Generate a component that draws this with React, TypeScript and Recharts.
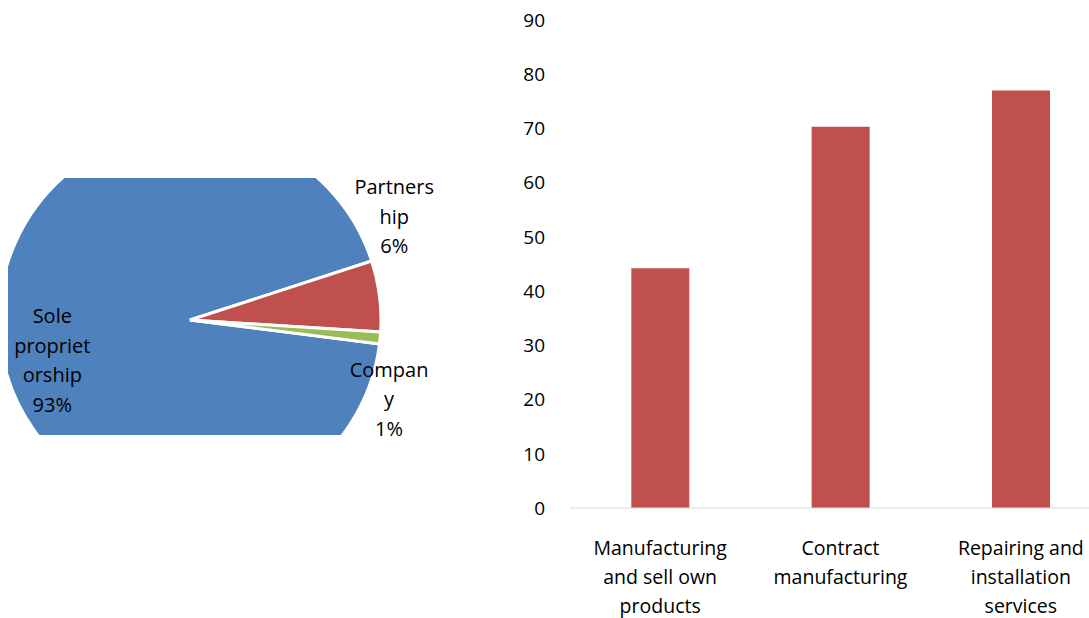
import React from 'react';
import { PieChart, Pie, Cell, BarChart, Bar, XAxis, YAxis } from 'recharts';

// ownership structure (pie)
const ownershipNames = ['Sole proprietorship', 'Partnership', 'Company'];
const ownershipShares = [93, 6, 1];
const ownershipLabelLines = [['Sole', 'propriet', 'orship'], ['Partners', 'hip'], ['Compan', 'y']];
const ownershipColors = ['#4F81BD', '#C0504D', '#9BBB59'];

// business activity (bars)
const activityNames = [
  'Manufacturing and sell own products',
  'Contract manufacturing',
  'Repairing and installation services',
];
const activityValues = [44.2, 70.3, 77];
const activityTickLines = [
  ['Manufacturing', 'and sell own', 'products'],
  ['Contract', 'manufacturing'],
  ['Repairing and', 'installation', 'services'],
];
const yTicks = [0, 10, 20, 30, 40, 50, 60, 70, 80, 90];

const FONT = '"Open Sans", sans-serif';

const pieData = ownershipNames.map((name, i) => ({ name, value: ownershipShares[i] }));
const barData = activityNames.map((name, i) => ({ name, value: activityValues[i] }));

// where each pie label sits: angle in degrees, distance as a fraction of the radius
const pieLabelSpots = [
  { angle: 196, dist: 0.75 },
  { angle: 27, dist: 1.2 },
  { angle: -21.5, dist: 1.12 },
];

const RADIAN = Math.PI / 180;
const total = ownershipShares.reduce((a, b) => a + b, 0);

// shared pie geometry
const PIE_CX = 182;
const PIE_CY = 150;
const PIE_R = 191;
const START = 352.8;
const END = -7.2;

const renderPieLabel = (props: any) => {
  const { cx, cy, outerRadius, index, value } = props;
  const spot = pieLabelSpots[index];
  const x = cx + outerRadius * spot.dist * Math.cos(spot.angle * RADIAN);
  const y = cy - outerRadius * spot.dist * Math.sin(spot.angle * RADIAN);
  const lines = [...ownershipLabelLines[index], `${Math.round((value / total) * 100)}%`];
  const lh = 29.5;
  const startY = y - ((lines.length - 1) * lh) / 2;
  return (
    <text x={x} y={startY} textAnchor="middle" dominantBaseline="central" fontFamily={FONT} fontSize={20} fill="#000">
      {lines.map((l, i) => (
        <tspan key={i} x={x} y={startY + i * lh} dominantBaseline="central">
          {l}
        </tspan>
      ))}
    </text>
  );
};

const ActivityTick = (props: any) => {
  const { x, y, index } = props;
  const lines = activityTickLines[index] || [];
  return (
    <text x={x} y={y} textAnchor="middle" fontFamily={FONT} fontSize={19.5} fill="#000">
      {lines.map((l, i) => (
        <tspan key={i} x={x} y={y + 39 + i * 29}>
          {l}
        </tspan>
      ))}
    </text>
  );
};

const App: React.FC = () => {
  return (
    <div style={{ position: 'relative', width: 1089, height: 618, overflow: 'hidden', background: '#fff' }}>
      <style>{'body { margin: 0; }'}</style>
      {/* pie sectors, cropped to a window */}
      <div style={{ position: 'absolute', left: 8, top: 170, width: 450, height: 300, clipPath: 'inset(8px 0 35px 0)' }}>
        <PieChart width={450} height={300} margin={{ top: 0, right: 0, bottom: 0, left: 0 }}>
          <Pie
            data={pieData}
            dataKey="value"
            nameKey="name"
            cx={PIE_CX}
            cy={PIE_CY}
            outerRadius={PIE_R}
            startAngle={START}
            endAngle={END}
            stroke="#fff"
            strokeWidth={3}
            labelLine={false}
            isAnimationActive={false}
          >
            {pieData.map((d, i) => (
              <Cell key={d.name} fill={ownershipColors[i]} />
            ))}
          </Pie>
        </PieChart>
      </div>
      {/* pie labels, not cropped */}
      <div style={{ position: 'absolute', left: 8, top: 170, width: 450, height: 300 }}>
        <PieChart width={450} height={300} margin={{ top: 0, right: 0, bottom: 0, left: 0 }}>
          <Pie
            data={pieData}
            dataKey="value"
            nameKey="name"
            cx={PIE_CX}
            cy={PIE_CY}
            outerRadius={PIE_R}
            startAngle={START}
            endAngle={END}
            fill="none"
            stroke="none"
            label={renderPieLabel}
            labelLine={false}
            isAnimationActive={false}
          />
        </PieChart>
      </div>
      <div style={{ position: 'absolute', left: 488, top: 8 }}>
        <BarChart width={640} height={610} data={barData} margin={{ top: 12, right: 17, bottom: 10, left: 22 }} barCategoryGap="34%">
          <XAxis
            dataKey="name"
            axisLine={{ stroke: '#D9D9D9' }}
            tickLine={false}
            tick={<ActivityTick />}
            interval={0}
            height={100}
          />
          <YAxis
            domain={[0, 90]}
            ticks={yTicks}
            axisLine={false}
            tickLine={false}
            tickSize={0}
            tickMargin={25}
            width={60}
            tick={{ fontFamily: FONT, fontSize: 19, fill: '#000' }}
          />
          <Bar dataKey="value" fill="#C0504D" isAnimationActive={false} />
        </BarChart>
      </div>
    </div>
  );
};

export default App;
